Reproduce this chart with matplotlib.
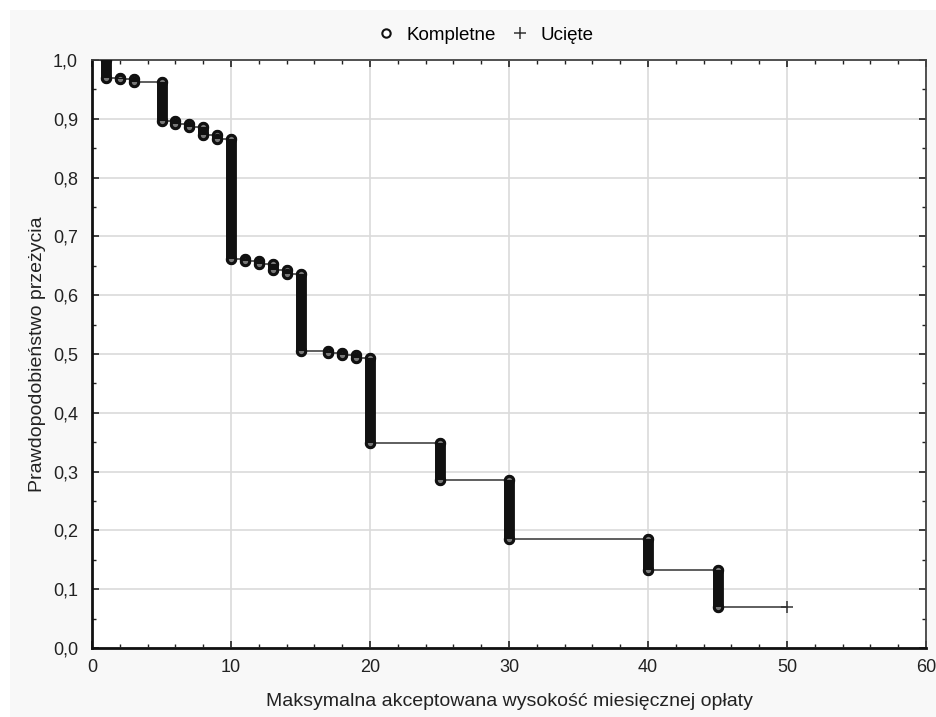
import matplotlib
matplotlib.use("Agg")
import matplotlib.pyplot as plt
from matplotlib.lines import Line2D
from matplotlib.patches import Rectangle
from matplotlib.ticker import MultipleLocator, FuncFormatter

# event times (complete observations) and survival after each of them
event_times = [1, 2, 3, 5, 6, 7, 8, 9, 10, 11, 12, 13, 14, 15, 17, 18, 19, 20, 25, 30, 40, 45]
survival = [0.970, 0.967, 0.962, 0.896, 0.891, 0.886, 0.872, 0.866, 0.662, 0.659, 0.653,
            0.643, 0.636, 0.505, 0.502, 0.498, 0.494, 0.349, 0.285, 0.185, 0.132, 0.070]
censored_times = [50]
censored_surv = [0.070]

legend_labels = ["Kompletne", "Ucięte"]
x_label = "Maksymalna akceptowana wysokość miesięcznej opłaty"
y_label = "Prawdopodobieństwo przeżycia"

plt.rcParams['font.family'] = ['Liberation Sans', 'DejaVu Sans']

fig = plt.figure(figsize=(9.36, 7.17), dpi=100)
fig.patches.append(Rectangle((10 / 936, 0), 926 / 936, 707 / 717,
                             transform=fig.transFigure, facecolor='#f8f8f8',
                             edgecolor='none', zorder=-10))
ax = fig.add_axes([92 / 936, 1 - 648 / 717, 834 / 936, 588 / 717])

# Kaplan-Meier step line
xs = [0] + event_times + censored_times
ys = [1.0] + survival + censored_surv
ax.step(xs, ys, where='post', color='#333333', lw=1.1, zorder=3)

# stacked "complete" markers: vertical drop drawn as thick bar capped by circles
prev = [1.0] + survival[:-1]
ax.vlines(event_times, survival, prev, color='#111111', lw=7.8, capstyle='round', zorder=4)
ax.plot(event_times, prev, 'o', ms=6, mfc='#777777', mec='#111111', mew=2.2, zorder=5)
ax.plot(event_times, survival, 'o', ms=6, mfc='#777777', mec='#111111', mew=2.2, zorder=5)
ax.vlines(event_times, survival, prev, color='#111111', lw=7, capstyle='butt', zorder=6)

# censored
ax.plot(censored_times, censored_surv, '+', ms=9, color='#333333', mew=1.1, zorder=5)

ax.set_xlim(0, 60)
ax.set_ylim(0, 1.0)
ax.xaxis.set_major_locator(MultipleLocator(10))
ax.xaxis.set_minor_locator(MultipleLocator(2))
ax.yaxis.set_major_locator(MultipleLocator(0.1))
ax.yaxis.set_minor_locator(MultipleLocator(0.05))
ax.yaxis.set_major_formatter(FuncFormatter(lambda v, p: f"{v:.1f}".replace('.', ',')))

ax.grid(True, which='major', color='#dadada', lw=1.2, zorder=0)
ax.set_axisbelow(True)
ax.tick_params(which='both', direction='in', top=True, right=True, colors='#222222',
               labelsize=13)
ax.tick_params(which='major', length=5, width=1.2)
ax.tick_params(which='minor', length=3, width=1)
ax.tick_params(axis='x', pad=8)
ax.tick_params(axis='y', pad=10)
for side in ['left', 'bottom']:
    ax.spines[side].set_linewidth(2)
    ax.spines[side].set_color('#111111')
for side in ['top', 'right']:
    ax.spines[side].set_linewidth(1.3)
    ax.spines[side].set_color('#444444')

ax.set_xlabel(x_label, fontsize=14, labelpad=12, color='#222222')
ax.set_ylabel(y_label, fontsize=14, labelpad=5, color='#222222')

handles = [Line2D([], [], ls='none', marker='o', ms=6, mfc='white', mec='#111111', mew=1.5),
           Line2D([], [], ls='none', marker='+', ms=9, color='#333333', mew=1.1)]
fig.legend(handles, legend_labels, loc='center', bbox_to_anchor=(485 / 936, 1 - 35 / 717),
           ncol=2, frameon=False, fontsize=13.5, handlelength=1, handletextpad=0.6,
           columnspacing=0.8)

fig.savefig('out.png', dpi=100, facecolor='white')
